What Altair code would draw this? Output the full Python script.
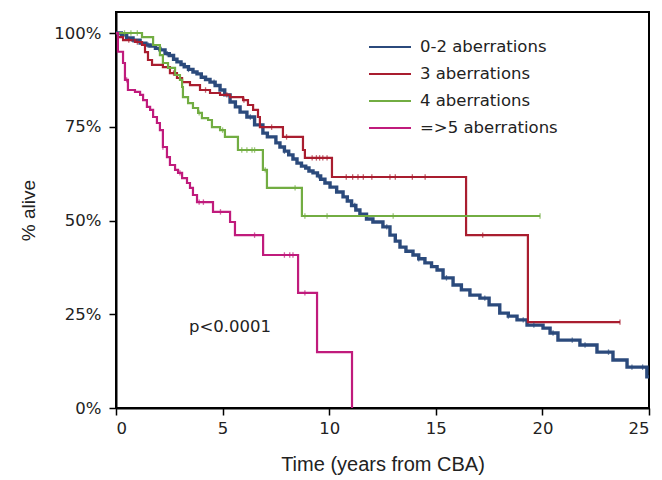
import altair as alt
import pandas as pd

# ---- data ----
series_names = ["0-2 aberrations", "3 aberrations", "4 aberrations", "=>5 aberrations"]
series_colors = ["#2b4a7c", "#a91d2f", "#72ad42", "#c01b7c"]

blue_t = [0, 0.25, 0.5, 0.8, 1.13, 1.4, 1.6, 1.85, 2.06, 2.3, 2.5, 2.7, 2.86, 3.05, 3.2, 3.4,
          3.61, 3.8, 4.0, 4.2, 4.41, 4.65, 4.88, 5.1, 5.35, 5.6, 5.82, 6.14, 6.5, 6.89, 7.1, 7.5,
          7.69, 7.9, 8.1, 8.3, 8.49, 8.7, 8.9, 9.05, 9.24, 9.45, 9.6, 9.8, 10.04, 10.35, 10.65,
          10.85, 11.05, 11.25, 11.44, 11.75, 12.05, 12.52, 12.85, 13.1, 13.32, 13.6, 13.93, 14.2,
          14.49, 14.8, 15.06, 15.34, 15.81, 16.2, 16.6, 17.07, 17.5, 18.0, 18.4, 18.81, 19.28,
          20.03, 20.36, 20.73, 21.76, 22.56, 23.31, 23.97, 24.9, 25.0]
blue_s = [1.0, 0.995, 0.987, 0.981, 0.973, 0.968, 0.965, 0.959, 0.955, 0.945, 0.94, 0.93, 0.923,
          0.916, 0.91, 0.903, 0.896, 0.891, 0.882, 0.876, 0.869, 0.86, 0.848, 0.835, 0.816, 0.803,
          0.789, 0.776, 0.755, 0.733, 0.723, 0.707, 0.696, 0.685, 0.675, 0.664, 0.653, 0.645,
          0.64, 0.632, 0.627, 0.619, 0.61, 0.6, 0.589, 0.576, 0.563, 0.552, 0.54, 0.528, 0.517,
          0.504, 0.496, 0.483, 0.461, 0.445, 0.429, 0.418, 0.408, 0.398, 0.387, 0.377, 0.368,
          0.347, 0.328, 0.315, 0.301, 0.293, 0.275, 0.253, 0.245, 0.235, 0.221, 0.213, 0.2, 0.181,
          0.168, 0.149, 0.128, 0.109, 0.083, 0.083]

red_t = [0, 0.09, 0.33, 0.89, 1.22, 1.36, 1.5, 1.69, 2.2, 2.53, 2.86, 3.1, 3.47, 3.94, 4.41,
         4.88, 5.35, 5.96, 6.19, 6.43, 6.66, 6.75, 7.83, 8.77, 8.86, 10.13, 16.42, 19.32, 23.64]
red_s = [1.0, 0.989, 0.981, 0.976, 0.968, 0.949, 0.928, 0.915, 0.909, 0.893, 0.88, 0.869, 0.861,
         0.848, 0.84, 0.835, 0.829, 0.821, 0.808, 0.795, 0.776, 0.749, 0.723, 0.688, 0.667,
         0.616, 0.461, 0.229, 0.229]

green_t = [0, 1.22, 1.74, 2.06, 2.2, 2.44, 2.77, 3.0, 3.1, 3.14, 3.38, 3.61, 3.85, 4.03, 4.32,
           4.5, 4.88, 5.11, 5.72, 6.89, 7.08, 8.72, 19.89]
green_s = [1.0, 0.989, 0.968, 0.941, 0.92, 0.907, 0.888, 0.875, 0.856, 0.829, 0.813, 0.8, 0.787,
           0.773, 0.768, 0.749, 0.741, 0.723, 0.688, 0.635, 0.587, 0.512, 0.512]

mag_t = [0, 0.09, 0.33, 0.42, 0.56, 0.89, 1.13, 1.27, 1.45, 1.6, 1.74, 1.92, 2.06, 2.2, 2.39,
         2.53, 2.77, 2.91, 3.1, 3.33, 3.47, 3.61, 3.8, 4.55, 5.35, 5.58, 6.9, 8.54, 9.43, 11.07]
mag_s = [1.0, 0.95, 0.92, 0.875, 0.848, 0.843, 0.835, 0.821, 0.803, 0.795, 0.776, 0.76, 0.741,
         0.696, 0.669, 0.648, 0.635, 0.627, 0.613, 0.6, 0.587, 0.568, 0.549, 0.523, 0.496, 0.461,
         0.408, 0.307, 0.149, 0.0]

blue_cens = [0.8, 1.5, 2.4, 3.4, 4.6, 6.3, 7.9, 9.5, 11.2, 12.7, 14.2, 15.5, 17.3, 18.4, 19.1,
             19.6, 20.5, 21.4, 22.0, 23.1, 24.2, 24.7]
red_cens = [0.6, 1.0, 2.7, 4.2, 5.2, 6.0, 7.3, 8.0, 9.2, 9.4, 9.55, 9.7, 9.9, 10.8, 11.1, 11.35,
            11.6, 12.0, 12.85, 13.1, 13.9, 14.5, 17.2, 23.64]
green_cens = [0.4, 0.7, 1.0, 3.9, 5.0, 5.9, 6.14, 6.38, 6.5, 7.0, 8.4, 8.86, 9.9, 13.0, 19.89]
mag_cens = [0.5, 2.2, 3.0, 3.9, 4.1, 4.9, 6.5, 7.9, 8.15, 8.3, 8.86]

y_ticks = [0, 0.25, 0.5, 0.75, 1.0]
x_ticks = [0, 5, 10, 15, 20, 25]
p_text = "p<0.0001"

# ---- build tables ----
curves = [(blue_t, blue_s), (red_t, red_s), (green_t, green_s), (mag_t, mag_s)]
cens = [blue_cens, red_cens, green_cens, mag_cens]
widths = [3.4, 2.2, 2.2, 2.2]

rows, crow = [], []
for k, (name, (ts, ss), cs) in enumerate(zip(series_names, curves, cens)):
    for t, s in zip(ts, ss):
        rows.append({"series": name, "t": t, "s": s, "ord": k, "w": widths[k]})
    for c in cs:
        val = ss[0]
        for t, s in zip(ts, ss):
            if t <= c:
                val = s
        crow.append({"series": name, "t": c, "s": val, "ord": k})

df = pd.DataFrame(rows)
cdf = pd.DataFrame(crow)

LFONT = "DejaVu Sans"
TFONT = "Liberation Sans"
xs = alt.Scale(domain=[0, 25], nice=False)
ys = alt.Scale(domain=[0, 1.056], nice=False)
col = alt.Scale(domain=series_names, range=series_colors)

lines = alt.Chart(df).mark_line(interpolate="step-after").encode(
    x=alt.X("t:Q", scale=xs, title="Time (years from CBA)",
            axis=alt.Axis(values=x_ticks, format="d", labelPadding=5, titlePadding=18,
                          titleFontSize=20)),
    y=alt.Y("s:Q", scale=ys, title="% alive",
            axis=alt.Axis(values=y_ticks, format=".0%", labelPadding=8, titlePadding=15,
                          titleFontSize=19)),
    color=alt.Color("series:N", scale=col, sort=series_names,
                    legend=alt.Legend(title=None, orient="none", legendX=252, legendY=27,
                                      symbolType="stroke", symbolSize=1764, clipHeight=16,
                                      symbolStrokeWidth=2, labelFontSize=16.5, labelFont=LFONT,
                                      labelColor="#222", rowPadding=10, labelOffset=8)),
    strokeWidth=alt.StrokeWidth("w:Q", scale=None, legend=None),
    detail="ord:O",
    order="ord:Q",
)

marks = alt.Chart(cdf).mark_point(shape="M0,-1L0,1", size=30, strokeWidth=1.3,
                                  filled=False).encode(
    x=alt.X("t:Q", scale=xs),
    y=alt.Y("s:Q", scale=ys),
    color=alt.Color("series:N", scale=col, legend=None),
)

ptext = alt.Chart(pd.DataFrame({"t": [5.35], "s": [0.216], "lab": [p_text]})).mark_text(
    fontSize=16.5, font=LFONT, color="#222"
).encode(x=alt.X("t:Q", scale=xs), y=alt.Y("s:Q", scale=ys), text="lab:N")

chart = alt.layer(lines, marks, ptext).properties(
    width=533, height=396,
    autosize=alt.AutoSizeParams(type="none"),
    padding={"left": 108, "top": 4, "right": 5, "bottom": 70},
).configure_axis(
    domainColor="black", domainWidth=2, tickColor="black", tickWidth=1.5, tickSize=7,
    labelFontSize=16.5, labelFont=LFONT, labelColor="#222", titleFont=TFONT,
    titleFontWeight="normal", titleColor="#222", grid=False,
).configure_view(stroke="black", strokeWidth=2)

chart.save("out.html", embed_options={"renderer": "svg", "actions": False})
